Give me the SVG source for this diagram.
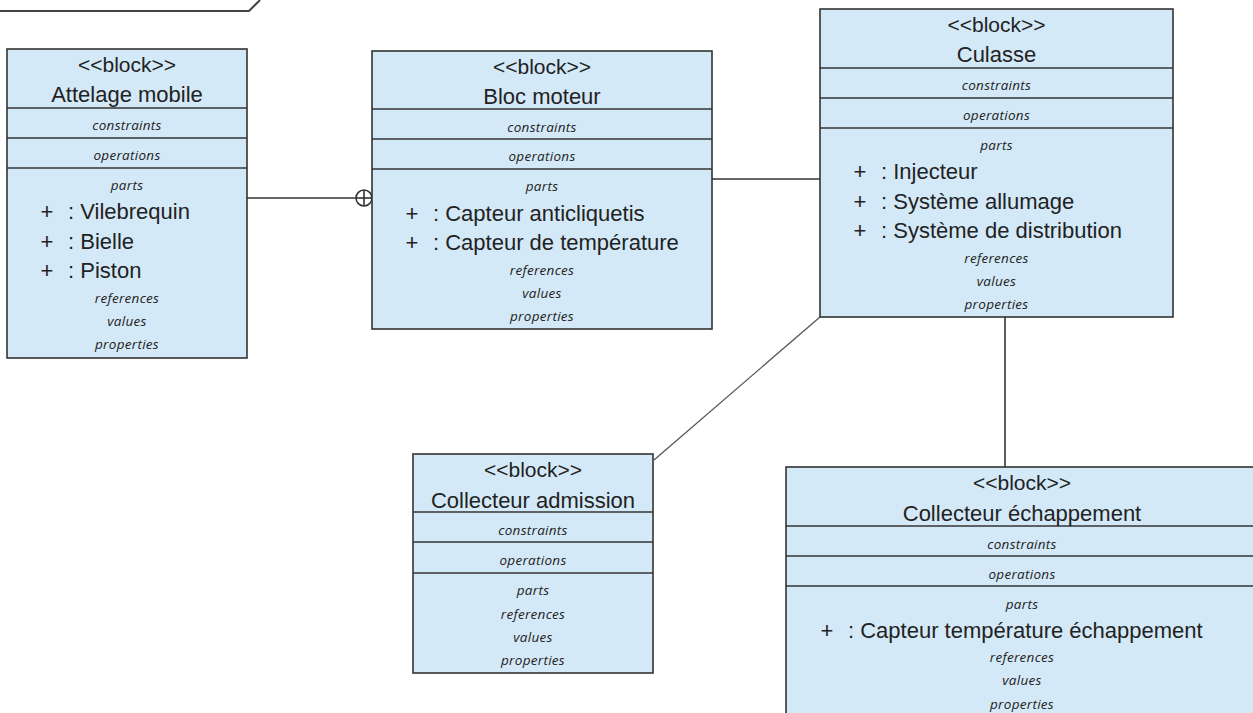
<svg xmlns="http://www.w3.org/2000/svg" width="1253" height="713" viewBox="0 0 1253 713">
<style>
.bg{fill:#ffffff}
.box{fill:#d4e9f7;stroke:#333333;stroke-width:1.6}
.dv{stroke:#333333;stroke-width:1.6}
.st{font-family:"Liberation Sans",Arial,sans-serif;font-size:21px;fill:#222222;text-anchor:middle}
.nm{font-family:"Liberation Sans",Arial,sans-serif;font-size:22px;fill:#222222;text-anchor:middle}
.it{font-family:"Open Sans","DejaVu Sans",sans-serif;font-style:italic;font-size:13.5px;letter-spacing:0.3px;fill:#222222;text-anchor:middle}
.pt{font-family:"Liberation Sans",Arial,sans-serif;font-size:22px;fill:#222222}
.pl{font-family:"Liberation Sans",Arial,sans-serif;font-size:22px;fill:#222222;text-anchor:middle}
.cn{fill:none;stroke:#333333;stroke-width:1.6}
.cd{fill:none;stroke:#555555;stroke-width:1.3}
.fr{fill:none;stroke:#444444;stroke-width:2}
</style>
<rect class="bg" x="0" y="0" width="1253" height="713"/>
<path class="fr" d="M0 11 H249 L260 0"/>

<g id="connectors">
  <line class="cn" x1="247" y1="198" x2="356" y2="198"/>
  <circle class="cn" cx="364" cy="198" r="8" fill="#ffffff"/>
  <line class="cn" x1="356" y1="198" x2="372" y2="198"/>
  <line class="cn" x1="364" y1="190" x2="364" y2="206"/>
  <line class="cn" x1="712" y1="179" x2="820" y2="179"/>
  <line class="cd" x1="820" y1="317" x2="654" y2="460"/>
  <line class="cn" x1="1005" y1="317" x2="1005" y2="467"/>
</g>

<g id="attelage-mobile">
  <rect class="box" x="7" y="49" width="240" height="309"/>
  <line class="dv" x1="7" y1="108" x2="247" y2="108"/>
  <line class="dv" x1="7" y1="138" x2="247" y2="138"/>
  <line class="dv" x1="7" y1="168" x2="247" y2="168"/>
  <text class="st" x="127" y="72">&lt;&lt;block&gt;&gt;</text>
  <text class="nm" x="127" y="102">Attelage mobile</text>
  <text class="it" x="127" y="130">constraints</text>
  <text class="it" x="127" y="160">operations</text>
  <text class="it" x="127" y="190">parts</text>
  <text class="pl" x="47" y="219">+</text><text class="pt" x="68" y="219">: Vilebrequin</text>
  <text class="pl" x="47" y="248.5">+</text><text class="pt" x="68" y="248.5">: Bielle</text>
  <text class="pl" x="47" y="278">+</text><text class="pt" x="68" y="278">: Piston</text>
  <text class="it" x="127" y="303">references</text>
  <text class="it" x="127" y="326">values</text>
  <text class="it" x="127" y="349">properties</text>
</g>

<g id="bloc-moteur">
  <rect class="box" x="372" y="51" width="340" height="278"/>
  <line class="dv" x1="372" y1="109" x2="712" y2="109"/>
  <line class="dv" x1="372" y1="139" x2="712" y2="139"/>
  <line class="dv" x1="372" y1="169" x2="712" y2="169"/>
  <text class="st" x="542" y="73.5">&lt;&lt;block&gt;&gt;</text>
  <text class="nm" x="542" y="103.5">Bloc moteur</text>
  <text class="it" x="542" y="132">constraints</text>
  <text class="it" x="542" y="161">operations</text>
  <text class="it" x="542" y="191">parts</text>
  <text class="pl" x="412" y="221">+</text><text class="pt" x="433" y="221">: Capteur anticliquetis</text>
  <text class="pl" x="412" y="250">+</text><text class="pt" x="433" y="250">: Capteur de température</text>
  <text class="it" x="542" y="274.5">references</text>
  <text class="it" x="542" y="298">values</text>
  <text class="it" x="542" y="321">properties</text>
</g>

<g id="culasse">
  <rect class="box" x="820" y="9" width="353" height="308"/>
  <line class="dv" x1="820" y1="68" x2="1173" y2="68"/>
  <line class="dv" x1="820" y1="98" x2="1173" y2="98"/>
  <line class="dv" x1="820" y1="128" x2="1173" y2="128"/>
  <text class="st" x="996.5" y="31.5">&lt;&lt;block&gt;&gt;</text>
  <text class="nm" x="996.5" y="61.5">Culasse</text>
  <text class="it" x="996.5" y="89.5">constraints</text>
  <text class="it" x="996.5" y="119.5">operations</text>
  <text class="it" x="996.5" y="149.5">parts</text>
  <text class="pl" x="860" y="178.5">+</text><text class="pt" x="881" y="178.5">: Injecteur</text>
  <text class="pl" x="860" y="208.5">+</text><text class="pt" x="881" y="208.5">: Système allumage</text>
  <text class="pl" x="860" y="238">+</text><text class="pt" x="881" y="238">: Système de distribution</text>
  <text class="it" x="996.5" y="262.5">references</text>
  <text class="it" x="996.5" y="285.5">values</text>
  <text class="it" x="996.5" y="309">properties</text>
</g>

<g id="collecteur-admission">
  <rect class="box" x="413" y="454" width="240" height="219"/>
  <line class="dv" x1="413" y1="512" x2="653" y2="512"/>
  <line class="dv" x1="413" y1="542" x2="653" y2="542"/>
  <line class="dv" x1="413" y1="573" x2="653" y2="573"/>
  <text class="st" x="533" y="477">&lt;&lt;block&gt;&gt;</text>
  <text class="nm" x="533" y="507.5">Collecteur admission</text>
  <text class="it" x="533" y="535">constraints</text>
  <text class="it" x="533" y="564.5">operations</text>
  <text class="it" x="533" y="595">parts</text>
  <text class="it" x="533" y="618.5">references</text>
  <text class="it" x="533" y="642">values</text>
  <text class="it" x="533" y="665">properties</text>
</g>

<g id="collecteur-echappement">
  <rect class="box" x="786" y="467" width="472" height="270"/>
  <line class="dv" x1="786" y1="526" x2="1258" y2="526"/>
  <line class="dv" x1="786" y1="556" x2="1258" y2="556"/>
  <line class="dv" x1="786" y1="586" x2="1258" y2="586"/>
  <text class="st" x="1022" y="490">&lt;&lt;block&gt;&gt;</text>
  <text class="nm" x="1022" y="521">Collecteur échappement</text>
  <text class="it" x="1022" y="548.5">constraints</text>
  <text class="it" x="1022" y="578.5">operations</text>
  <text class="it" x="1022" y="608.5">parts</text>
  <text class="pl" x="827" y="637.5">+</text><text class="pt" x="848" y="637.5">: Capteur température échappement</text>
  <text class="it" x="1022" y="662">references</text>
  <text class="it" x="1022" y="685">values</text>
  <text class="it" x="1022" y="708.5">properties</text>
</g>
</svg>
